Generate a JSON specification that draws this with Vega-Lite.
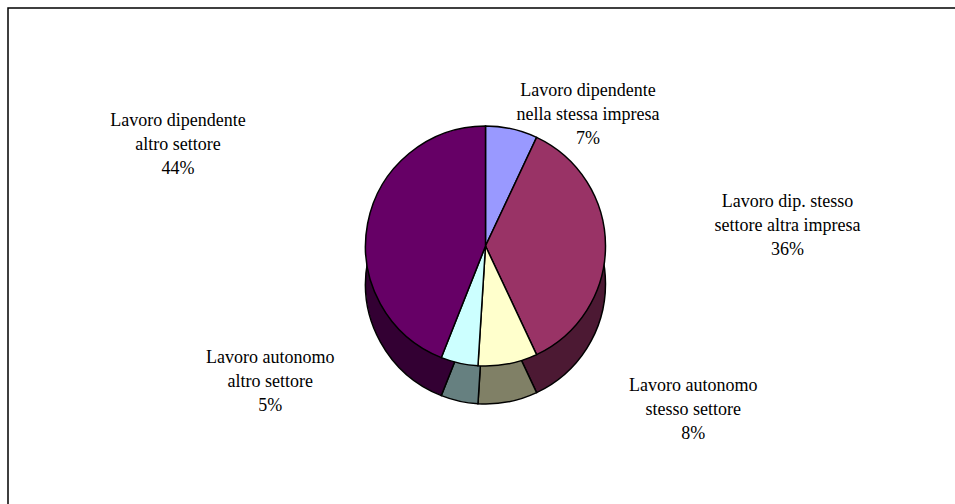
{
  "$schema": "https://vega.github.io/schema/vega-lite/v6.json",
  "width": 955,
  "height": 504,
  "autosize": {"type": "none"},
  "padding": {"left": 8, "top": 8, "right": 0, "bottom": 0},
  "background": "white",
  "view": {"stroke": "black", "strokeWidth": 1.5},
  "config": {"font": "Liberation Serif, Times New Roman, serif"},
  "data": {
    "values": [
      {"label": "Lavoro dipendente nella stessa impresa", "share": 7, "text": "Lavoro dipendente\nnella stessa impresa\n7%"},
      {"label": "Lavoro dip. stesso settore altra impresa", "share": 36, "text": "Lavoro dip. stesso\nsettore altra impresa\n36%"},
      {"label": "Lavoro autonomo stesso settore", "share": 8, "text": "Lavoro autonomo\nstesso settore\n8%"},
      {"label": "Lavoro autonomo altro settore", "share": 5, "text": "Lavoro autonomo\naltro settore\n5%"},
      {"label": "Lavoro dipendente altro settore", "share": 44, "text": "Lavoro dipendente\naltro settore\n44%"}
    ]
  },
  "transform": [
    {"stack": "share", "groupby": [], "as": ["s0", "s1"]},
    {"calculate": "(datum.s0 + datum.s1) / 2", "as": "mid"}
  ],
  "layer": [
    {
      "mark": {"type": "arc", "outerRadius": 120, "yOffset": 24, "stroke": "black", "strokeWidth": 1.5},
      "encoding": {
        "theta": {"field": "s0", "type": "quantitative", "scale": {"domain": [0, 100], "range": [0, 6.2832]}},
        "theta2": {"field": "s1"},
        "color": {
          "field": "label", "type": "nominal", "legend": null,
          "scale": {
            "domain": ["Lavoro dipendente nella stessa impresa", "Lavoro dip. stesso settore altra impresa", "Lavoro autonomo stesso settore", "Lavoro autonomo altro settore", "Lavoro dipendente altro settore"],
            "range": ["#4C4C80", "#4C1933", "#808066", "#668080", "#330033"]
          }
        }
      }
    },
    {
      "mark": {"type": "arc", "outerRadius": 120, "yOffset": -14, "stroke": "black", "strokeWidth": 1.5},
      "encoding": {
        "theta": {"field": "s0", "type": "quantitative", "scale": {"domain": [0, 100], "range": [0, 6.2832]}},
        "theta2": {"field": "s1"},
        "color": {
          "field": "label", "type": "nominal", "legend": null,
          "scale": {
            "domain": ["Lavoro dipendente nella stessa impresa", "Lavoro dip. stesso settore altra impresa", "Lavoro autonomo stesso settore", "Lavoro autonomo altro settore", "Lavoro dipendente altro settore"],
            "range": ["#9999FF", "#993366", "#FFFFCC", "#CCFFFF", "#660066"]
          }
        }
      }
    },
    {
      "transform": [{"filter": {"field": "label", "equal": "Lavoro dipendente nella stessa impresa"}}],
      "mark": {"type": "text", "radius": 140, "dx": 72, "dy": -32, "font": "Liberation Serif, Times New Roman, serif", "fontSize": 18, "lineHeight": 24, "lineBreak": "\n", "align": "center", "baseline": "middle", "color": "black"},
      "encoding": {
        "theta": {"field": "mid", "type": "quantitative", "scale": {"domain": [0, 100], "range": [0, 6.2832]}},
        "text": {"field": "text"}
      }
    },
    {
      "transform": [{"filter": {"field": "label", "equal": "Lavoro dip. stesso settore altra impresa"}}],
      "mark": {"type": "text", "radius": 300, "dx": 2, "dy": -58, "font": "Liberation Serif, Times New Roman, serif", "fontSize": 18, "lineHeight": 24, "lineBreak": "\n", "align": "center", "baseline": "middle", "color": "black"},
      "encoding": {
        "theta": {"field": "mid", "type": "quantitative", "scale": {"domain": [0, 100], "range": [0, 6.2832]}},
        "text": {"field": "text"}
      }
    },
    {
      "transform": [{"filter": {"field": "label", "equal": "Lavoro autonomo stesso settore"}}],
      "mark": {"type": "text", "radius": 153, "dx": 179, "dy": -24, "font": "Liberation Serif, Times New Roman, serif", "fontSize": 18, "lineHeight": 24, "lineBreak": "\n", "align": "center", "baseline": "middle", "color": "black"},
      "encoding": {
        "theta": {"field": "mid", "type": "quantitative", "scale": {"domain": [0, 100], "range": [0, 6.2832]}},
        "text": {"field": "text"}
      }
    },
    {
      "transform": [{"filter": {"field": "label", "equal": "Lavoro autonomo altro settore"}}],
      "mark": {"type": "text", "radius": 125, "dx": -188, "dy": -24, "font": "Liberation Serif, Times New Roman, serif", "fontSize": 18, "lineHeight": 24, "lineBreak": "\n", "align": "center", "baseline": "middle", "color": "black"},
      "encoding": {
        "theta": {"field": "mid", "type": "quantitative", "scale": {"domain": [0, 100], "range": [0, 6.2832]}},
        "text": {"field": "text"}
      }
    },
    {
      "transform": [{"filter": {"field": "label", "equal": "Lavoro dipendente altro settore"}}],
      "mark": {"type": "text", "radius": 313, "dx": 0, "dy": -80, "font": "Liberation Serif, Times New Roman, serif", "fontSize": 18, "lineHeight": 24, "lineBreak": "\n", "align": "center", "baseline": "middle", "color": "black"},
      "encoding": {
        "theta": {"field": "mid", "type": "quantitative", "scale": {"domain": [0, 100], "range": [0, 6.2832]}},
        "text": {"field": "text"}
      }
    }
  ],
  "resolve": {"scale": {"color": "independent"}}
}
